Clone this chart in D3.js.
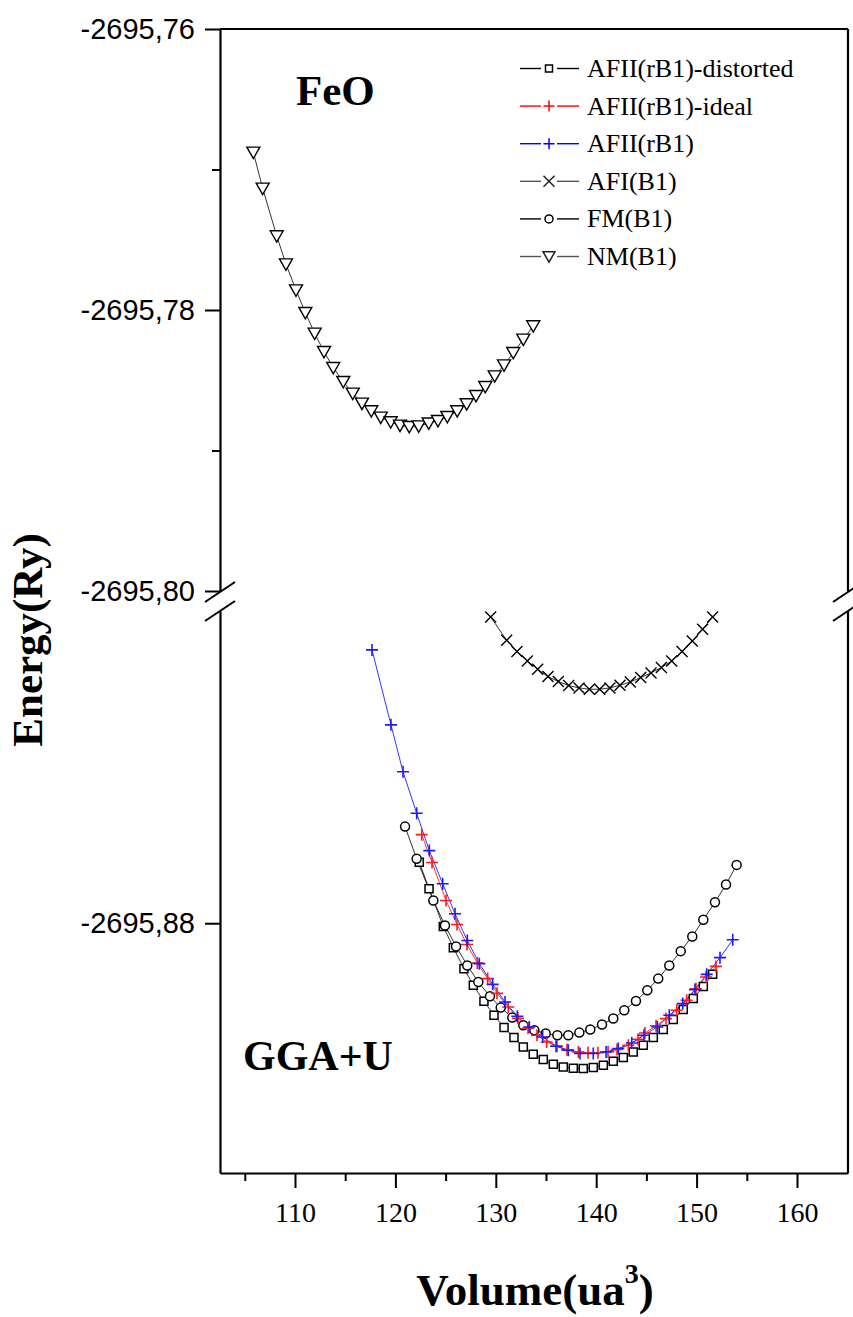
<!DOCTYPE html>
<html>
<head>
<meta charset="utf-8">
<script src="https://cdn.jsdelivr.net/npm/d3@7"></script>
<style>
  html, body { margin: 0; padding: 0; background: #fff; }
  svg { display: block; }
</style>
</head>
<body>
<script>
// ---- Data: total energy (Ry) versus cell volume (ua^3) for FeO ----

// NM(B1)
const nmVolume = [105.85, 106.78, 108.18, 109.10, 110.10, 111.03, 111.96, 112.89, 113.81, 114.81,
  115.75, 116.67, 117.60, 118.54, 119.53, 120.46, 121.38, 122.32, 123.32, 124.24,
  125.17, 126.16, 127.10, 128.03, 128.95, 129.89, 130.82, 131.74, 132.74, 133.73];
const nmEnergy = [-2695.76878, -2695.77134, -2695.77473, -2695.77673, -2695.77858, -2695.78019,
  -2695.78166, -2695.78297, -2695.78411, -2695.78510, -2695.78593, -2695.78664, -2695.78719,
  -2695.78764, -2695.78797, -2695.78821, -2695.78831, -2695.78826, -2695.78806, -2695.78788,
  -2695.78759, -2695.78719, -2695.78669, -2695.78610, -2695.78546, -2695.78470, -2695.78392,
  -2695.78304, -2695.78209, -2695.78114];

// AFI(B1)
const afiVolume = [129.49, 131.08, 132.11, 133.14, 134.17, 135.20, 136.23, 137.26, 138.29, 139.32,
  140.35, 141.37, 142.37, 143.40, 144.43, 145.46, 146.49, 147.52, 148.55, 149.57, 150.60, 151.60];
const afiEnergy = [-2695.84567, -2695.84828, -2695.84955, -2695.85060, -2695.85153, -2695.85235,
  -2695.85291, -2695.85336, -2695.85362, -2695.85377, -2695.85377, -2695.85362, -2695.85332,
  -2695.85295, -2695.85246, -2695.85194, -2695.85134, -2695.85060, -2695.84955, -2695.84836,
  -2695.84705, -2695.84567];

// FM(B1)
const fmVolume = [120.96, 122.12, 123.78, 124.94, 126.04, 127.16, 128.26, 129.42, 130.49, 131.64,
  132.74, 133.84, 134.97, 136.13, 137.22, 138.32, 139.41, 140.58, 141.70, 142.80,
  143.96, 145.09, 146.18, 147.28, 148.42, 149.57, 150.67, 151.83, 152.93, 153.99];
const fmEnergy = [-2695.86917, -2695.87278, -2695.87745, -2695.88025, -2695.88260, -2695.88473,
  -2695.88659, -2695.88819, -2695.88946, -2695.89058, -2695.89144, -2695.89200, -2695.89237,
  -2695.89256, -2695.89256, -2695.89226, -2695.89192, -2695.89135, -2695.89069, -2695.88976,
  -2695.88872, -2695.88752, -2695.88621, -2695.88473, -2695.88313, -2695.88148, -2695.87961,
  -2695.87764, -2695.87566, -2695.87346];

// AFII(rB1)-distorted
const distVolume = [122.38, 123.35, 124.77, 125.77, 126.83, 127.76, 128.82, 129.82, 130.82, 131.81,
  132.74, 133.73, 134.73, 135.73, 136.72, 137.72, 138.71, 139.71, 140.71, 141.70,
  142.70, 143.69, 144.69, 145.69, 146.68, 147.68, 148.67, 149.67, 150.67, 151.60];
const distEnergy = [-2695.87317, -2695.87614, -2695.88036, -2695.88274, -2695.88509, -2695.88696,
  -2695.88875, -2695.89032, -2695.89170, -2695.89282, -2695.89387, -2695.89468, -2695.89528,
  -2695.89580, -2695.89611, -2695.89625, -2695.89628, -2695.89617, -2695.89592, -2695.89547,
  -2695.89505, -2695.89443, -2695.89368, -2695.89282, -2695.89192, -2695.89080, -2695.88968,
  -2695.88845, -2695.88708, -2695.88573];

// AFII(rB1)-ideal
const idealVolume = [122.62, 123.65, 125.04, 126.14, 127.13, 128.16, 129.19, 130.12, 131.24, 132.21,
  133.21, 134.10, 135.07, 136.10, 137.09, 138.22, 139.18, 140.18, 141.18, 142.07,
  143.20, 144.16, 144.86, 145.96, 146.95, 148.02, 149.01, 149.94, 150.94, 151.93];
const idealEnergy = [-2695.87007, -2695.87320, -2695.87745, -2695.88014, -2695.88238, -2695.88447,
  -2695.88621, -2695.88786, -2695.88939, -2695.89066, -2695.89177, -2695.89256, -2695.89331,
  -2695.89379, -2695.89418, -2695.89443, -2695.89452, -2695.89452, -2695.89440, -2695.89416,
  -2695.89368, -2695.89301, -2695.89230, -2695.89150, -2695.89069, -2695.88976, -2695.88864,
  -2695.88735, -2695.88603, -2695.88484];

// AFII(rB1)
const afiiVolume = [117.67, 119.56, 120.76, 122.12, 123.38, 124.71, 125.94, 127.16, 128.36, 129.69,
  130.92, 132.14, 133.34, 134.67, 136.00, 137.22, 138.39, 139.71, 140.98, 142.20,
  143.54, 144.76, 146.09, 147.28, 148.62, 149.84, 151.01, 152.33, 153.60];
const afiiEnergy = [-2695.84936, -2695.85776, -2695.86302, -2695.86768, -2695.87186, -2695.87558,
  -2695.87894, -2695.88193, -2695.88453, -2695.88685, -2695.88883, -2695.89043, -2695.89163,
  -2695.89275, -2695.89379, -2695.89424, -2695.89461, -2695.89461, -2695.89443, -2695.89405,
  -2695.89342, -2695.89256, -2695.89163, -2695.89032, -2695.88901, -2695.88744, -2695.88573,
  -2695.88386, -2695.88185];

// Axis ticks
const xMajorTicks = [110, 120, 130, 140, 150, 160];
const xMinorTicks = [105, 115, 125, 135, 145, 155];
const yTopMajorTicks = [-2695.80, -2695.78, -2695.76];
const yTopMinorTicks = [-2695.79, -2695.77];
const yBottomMajorTicks = [-2695.88];

const legendLabels = ["AFII(rB1)-distorted", "AFII(rB1)-ideal", "AFII(rB1)", "AFI(B1)", "FM(B1)", "NM(B1)"];

// ---- Layout ----
const W = 853, H = 1317;
const plotLeft = 220, plotRight = 848, plotTop = 29, plotBottom = 1173;
const breakTop = 591, breakBottom = 611;

const svg = d3.select("body").append("svg").attr("width", W).attr("height", H);

const x = d3.scaleLinear().domain([102.53, 165.08]).range([plotLeft, plotRight]);
const yTop = d3.scaleLinear().domain([-2695.80, -2695.76]).range([breakTop, plotTop]);
const yBot = d3.scaleLinear().domain([-2695.908, -2695.845]).range([plotBottom, breakBottom]);

const comma = v => d3.format(".2f")(v).replace(".", ",").replace("\u2212", "-");

// ---- Marker shapes ----
function markerPath(kind, s) {
  const h = s / 2;
  switch (kind) {
    case "square": return `M${-h},${-h}H${h}V${h}H${-h}Z`;
    case "circle": return `M${h},0A${h},${h} 0 1,1 ${-h},0A${h},${h} 0 1,1 ${h},0Z`;
    case "plus": return `M${-h},0H${h}M0,${-h}V${h}`;
    case "times": return `M${-h},${-h}L${h},${h}M${-h},${h}L${h},${-h}`;
    case "tri": return `M${-h},${-h * 0.8}H${h}L0,${h * 0.95}Z`;
  }
}

const series = [
  { name: "NM", vol: nmVolume, en: nmEnergy, y: yTop, line: "#000", mark: "tri", size: 13, color: "#000", fill: "#fff", sw: 1.4 },
  { name: "AFI", vol: afiVolume, en: afiEnergy, y: yBot, line: "#000", mark: "times", size: 11, color: "#000", fill: "none", sw: 1.4 },
  { name: "dist", vol: distVolume, en: distEnergy, y: yBot, line: "#000", mark: "square", size: 8, color: "#000", fill: "#fff", sw: 1.5 },
  { name: "FM", vol: fmVolume, en: fmEnergy, y: yBot, line: "#000", mark: "circle", size: 9, color: "#000", fill: "#fff", sw: 1.5 },
  { name: "ideal", vol: idealVolume, en: idealEnergy, y: yBot, line: "#ff0000", mark: "plus", size: 12, color: "#ff1a1a", fill: "none", sw: 1.6 },
  { name: "afii", vol: afiiVolume, en: afiiEnergy, y: yBot, line: "#0000ff", mark: "plus", size: 12, color: "#1a1aff", fill: "none", sw: 1.6 }
];

// ---- Curves and markers ----
const plot = svg.append("g");
series.forEach(s => {
  const pts = s.vol.map((v, i) => [v, s.en[i]]);
  const line = d3.line().x(d => x(d[0])).y(d => s.y(d[1]));
  plot.append("path").attr("d", line(pts)).attr("fill", "none")
    .attr("stroke", s.line).attr("stroke-width", 0.8);
});
series.forEach(s => {
  const pts = s.vol.map((v, i) => [v, s.en[i]]);
  plot.append("g").selectAll("path").data(pts).join("path")
    .attr("transform", d => `translate(${x(d[0])},${s.y(d[1])})`)
    .attr("d", markerPath(s.mark, s.size))
    .attr("fill", s.fill).attr("stroke", s.color).attr("stroke-width", s.sw);
});

// ---- Frame ----
const axisStroke = 2.2;
const frame = svg.append("g").attr("stroke", "#000").attr("stroke-width", axisStroke).attr("fill", "none");
frame.append("line").attr("x1", plotLeft).attr("x2", plotRight).attr("y1", plotTop).attr("y2", plotTop);
frame.append("line").attr("x1", plotRight).attr("x2", plotRight).attr("y1", plotTop).attr("y2", breakTop);
frame.append("line").attr("x1", plotRight).attr("x2", plotRight).attr("y1", breakBottom).attr("y2", plotBottom);

// Break marks on both vertical axes
[plotLeft, plotRight].forEach(cx => {
  [breakTop + 1, breakBottom].forEach(cy => {
    frame.append("line").attr("x1", cx - 15).attr("y1", cy + 10).attr("x2", cx + 15).attr("y2", cy - 10)
      .attr("stroke-width", 2);
  });
});

// ---- Axes ----
const tickFont = "'Liberation Serif', 'Times New Roman', serif";
const yFont = "'Liberation Sans', Arial, sans-serif";

function styleAxis(g) {
  g.select(".domain").attr("stroke-width", axisStroke);
  g.selectAll(".tick line").attr("stroke-width", 2);
}

// X axis
const xAxis = svg.append("g").attr("transform", `translate(0,${plotBottom})`)
  .call(d3.axisBottom(x).tickValues(xMajorTicks).tickSize(15).tickPadding(14).tickSizeOuter(0).tickFormat(d3.format("d")))
  .call(styleAxis);
xAxis.selectAll("text").attr("font-family", tickFont).attr("font-size", 28).attr("fill", "#000");
svg.append("g").attr("transform", `translate(0,${plotBottom})`)
  .call(d3.axisBottom(x).tickValues(xMinorTicks).tickSize(8).tickFormat(""))
  .call(g => g.select(".domain").remove())
  .call(g => g.selectAll(".tick line").attr("stroke-width", 2));

// Upper y segment
const yAxTop = svg.append("g").attr("transform", `translate(${plotLeft},0)`)
  .call(d3.axisLeft(yTop).tickValues(yTopMajorTicks).tickSize(15).tickPadding(10).tickSizeOuter(0).tickFormat(comma))
  .call(styleAxis);
yAxTop.selectAll("text").attr("font-family", yFont).attr("font-size", 29).attr("fill", "#000");
svg.append("g").attr("transform", `translate(${plotLeft},0)`)
  .call(d3.axisLeft(yTop).tickValues(yTopMinorTicks).tickSize(8).tickFormat(""))
  .call(g => g.select(".domain").remove())
  .call(g => g.selectAll(".tick line").attr("stroke-width", 2));

// Lower y segment
const yAxBot = svg.append("g").attr("transform", `translate(${plotLeft},0)`)
  .call(d3.axisLeft(yBot).tickValues(yBottomMajorTicks).tickSize(15).tickPadding(10).tickSizeOuter(0).tickFormat(comma))
  .call(styleAxis);
yAxBot.selectAll("text").attr("font-family", yFont).attr("font-size", 29).attr("fill", "#000");

// ---- Titles ----
svg.append("text").attr("x", 296).attr("y", 105)
  .attr("font-family", tickFont).attr("font-weight", "bold").attr("font-size", 43).text("FeO");
svg.append("text").attr("x", 243).attr("y", 1070)
  .attr("font-family", tickFont).attr("font-weight", "bold").attr("font-size", 42).text("GGA+U");

const xTitle = svg.append("text").attr("x", 535).attr("y", 1305).attr("text-anchor", "middle")
  .attr("font-family", tickFont).attr("font-weight", "bold").attr("font-size", 45);
xTitle.append("tspan").text("Volume(ua");
xTitle.append("tspan").attr("font-size", 28).attr("dy", -22).text("3");
xTitle.append("tspan").attr("dy", 22).text(")");

svg.append("text").attr("transform", "translate(42,640) rotate(-90)").attr("text-anchor", "middle")
  .attr("font-family", tickFont).attr("font-weight", "bold").attr("font-size", 43).text("Energy(Ry)");

// ---- Legend ----
const legendStyles = [
  { line: "#000", mark: "square", color: "#000", size: 7 },
  { line: "#ff0000", mark: "plus", color: "#ff0000", size: 11 },
  { line: "#0000ff", mark: "plus", color: "#0000ff", size: 11 },
  { line: "#555", mark: "times", color: "#222", size: 11 },
  { line: "#000", mark: "circle", color: "#000", size: 8 },
  { line: "#555", mark: "tri", color: "#222", size: 12 }
];
const legend = svg.append("g");
legendLabels.forEach((label, i) => {
  const cy = 68.5 + i * 37.6;
  const st = legendStyles[i];
  const g = legend.append("g").attr("transform", `translate(0,${cy})`);
  g.append("line").attr("x1", 520).attr("x2", 541).attr("y1", 0).attr("y2", 0).attr("stroke", st.line).attr("stroke-width", 1.4);
  g.append("line").attr("x1", 557).attr("x2", 579).attr("y1", 0).attr("y2", 0).attr("stroke", st.line).attr("stroke-width", 1.4);
  g.append("path").attr("transform", "translate(549,0)").attr("d", markerPath(st.mark, st.size))
    .attr("fill", "none").attr("stroke", st.color).attr("stroke-width", 1.5);
  g.append("text").attr("x", 587).attr("y", 8.5).attr("font-family", tickFont).attr("font-size", 26)
    .attr("fill", "#000").text(label);
});
</script>
</body>
</html>
